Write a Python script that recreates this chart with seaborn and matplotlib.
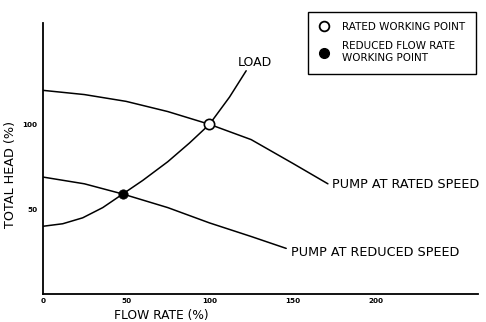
import matplotlib
matplotlib.use("Agg")
import matplotlib.pyplot as plt
import seaborn as sns
import pandas as pd
from matplotlib.lines import Line2D

sns.set_theme(style="white")
plt.rcParams["font.family"] = ["DejaVu Sans"]
plt.rcParams["text.color"] = "black"
plt.rcParams["axes.labelcolor"] = "black"
plt.rcParams["xtick.color"] = "black"
plt.rcParams["ytick.color"] = "black"

# Pump at rated speed: flow (%) vs head (%)
rated_flow = [0, 25, 50, 75, 100, 125, 150, 171]
rated_head = [120, 117.5, 113.5, 107.5, 100, 91, 77, 65]

# Pump at reduced speed
reduced_flow = [0, 25, 48, 75, 100, 125, 146]
reduced_head = [69, 65, 59, 51, 42, 34, 27]

# System (load) curve
load_flow = [0, 12, 24, 36, 48, 60, 75, 88, 100, 112, 122]
load_head = [40, 41.5, 45, 51, 59, 67, 78, 89, 100, 116, 131.5]

# Working points
rated_point = (100, 100)
reduced_point = (48, 59)

x_ticks = [0, 50, 100, 150, 200]
y_ticks = [50, 100]

fig = plt.figure(figsize=(4.86, 3.22), dpi=100)
ax = fig.add_axes([42.7 / 486, (322 - 294.3) / 322, (478 - 42.7) / 486, (294.3 - 23) / 322])

lw = 1.1
for fx, hy in [(rated_flow, rated_head), (reduced_flow, reduced_head), (load_flow, load_head)]:
    df = pd.DataFrame({"flow": fx, "head": hy})
    sns.lineplot(data=df, x="flow", y="head", ax=ax, color="black", lw=lw,
                 estimator=None, sort=False)

sns.scatterplot(x=[rated_point[0]], y=[rated_point[1]], ax=ax, s=55,
                facecolor="white", edgecolor="black", linewidth=1.2, zorder=5)
sns.scatterplot(x=[reduced_point[0]], y=[reduced_point[1]], ax=ax, s=45,
                color="black", edgecolor="black", zorder=5)

ax.set_xlim(0, 261)
ax.set_ylim(0, 159.6)
ax.set_xticks(x_ticks)
ax.set_xticklabels([str(t) for t in x_ticks], fontsize=5.2, fontweight="bold")
ax.set_yticks(y_ticks)
ax.set_yticklabels([str(t) for t in y_ticks], fontsize=5.2, fontweight="bold")
ax.tick_params(axis="x", direction="in", length=3, width=1, pad=3)
ax.tick_params(axis="y", direction="out", length=3, width=1, pad=1)

for side in ["top", "right"]:
    ax.spines[side].set_visible(False)
for side in ["left", "bottom"]:
    ax.spines[side].set_color("black")
    ax.spines[side].set_linewidth(1.3)

ax.set_xlabel("FLOW RATE (%)", fontsize=8.8)
ax.xaxis.set_label_coords((161 - 42.7) / (478 - 42.7), -0.077)
ax.xaxis.label.set_va("center")
ax.set_ylabel("TOTAL HEAD (%)", fontsize=9.2)
ax.yaxis.set_label_coords(-0.058, (294.3 - 175) / (294.3 - 23))

ax.text(173.5, 64.7, "PUMP AT RATED SPEED", fontsize=9.2, va="center", ha="left")
ax.text(149, 24.8, "PUMP AT REDUCED SPEED", fontsize=9.2, va="center", ha="left")
ax.text(127, 136.5, "LOAD", fontsize=9, va="center", ha="center")

handles = [
    Line2D([], [], marker="o", ls="", markersize=7, markerfacecolor="white",
           markeredgecolor="black", markeredgewidth=1.3),
    Line2D([], [], marker="o", ls="", markersize=7, markerfacecolor="black",
           markeredgecolor="black"),
]
leg = ax.legend(handles, ["RATED WORKING POINT", "REDUCED FLOW RATE\nWORKING POINT"],
                loc="upper right", bbox_to_anchor=(476 / 486, 1 - 11.7 / 322),
                bbox_transform=fig.transFigure, fontsize=7.5, frameon=True,
                fancybox=False, edgecolor="black", framealpha=1,
                handletextpad=1.3, borderpad=1.0, labelspacing=0.9,
                handlelength=1.0, borderaxespad=0)
leg.get_frame().set_linewidth(1.0)

fig.savefig("out.png", dpi=100)
